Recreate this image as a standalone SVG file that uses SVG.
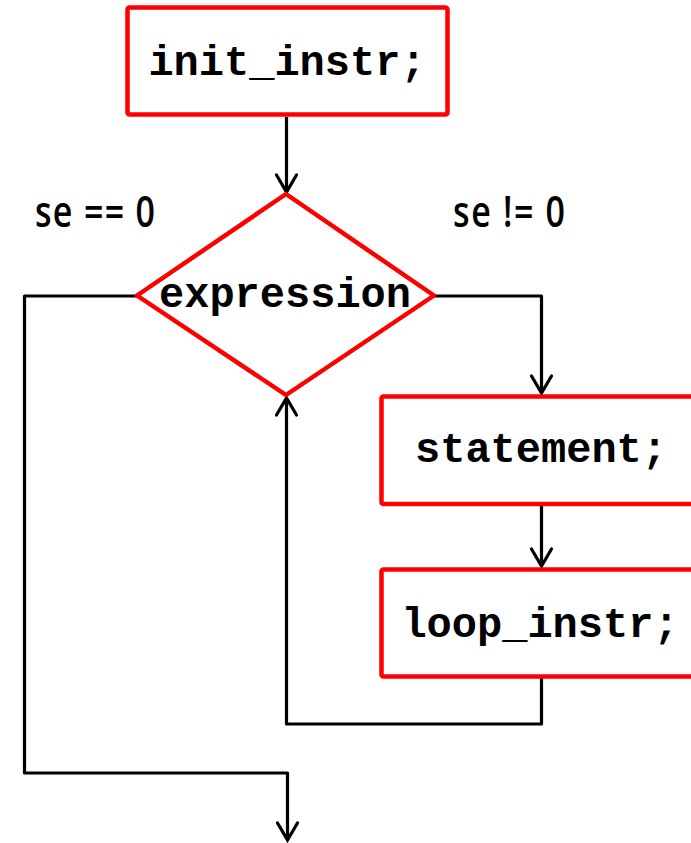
<svg xmlns="http://www.w3.org/2000/svg" width="691" height="843" viewBox="0 0 691 843">
<style>
.box{fill:#fff;stroke:#ff0000;stroke-width:4.5;stroke-linejoin:round}
.code{font-family:"Liberation Mono","Courier New",monospace;font-weight:bold;font-size:42px;fill:#000;text-anchor:middle}
.lbl{font-family:"Open Sans","Noto Sans",sans-serif;font-weight:600;font-size:34px;fill:#000}
.conn{fill:none;stroke:#000;stroke-width:3.2;stroke-linejoin:round}
</style>
<defs>
<marker id="arr" viewBox="-20 -12 22 24" refX="0" refY="0" markerWidth="22" markerHeight="24" markerUnits="userSpaceOnUse" orient="auto" overflow="visible">
<path d="M-17,-10 L0,0 L-17,10" fill="none" stroke="#000" stroke-width="3.2" stroke-linejoin="miter" stroke-linecap="round"/>
</marker>
</defs>
<rect width="691" height="843" fill="#fff"/>
<g id="connectors">
<path class="conn" d="M286.5,117 L286.5,192" marker-end="url(#arr)"/>
<path class="conn" d="M434,296 L541.5,296 L541.5,393" marker-end="url(#arr)"/>
<path class="conn" d="M541.5,506 L541.5,566" marker-end="url(#arr)"/>
<path class="conn" d="M541.5,678 L541.5,724 L286.5,724 L286.5,398" marker-end="url(#arr)"/>
<path class="conn" d="M137,296 L24.5,296 L24.5,773 L287.5,773 L287.5,840" marker-end="url(#arr)"/>
</g>
<g id="init">
<rect class="box" x="127.5" y="7.5" width="320" height="107" rx="2"/>
<text class="code" x="287" y="75">init_instr;</text>
</g>
<g id="expression">
<polygon class="box" points="286,194 434,295.5 286,395 137,295.5"/>
<text class="code" x="285" y="307">expression</text>
</g>
<g id="statement">
<rect class="box" x="381.5" y="396.5" width="330" height="107.5" rx="2"/>
<text class="code" x="541" y="462">statement;</text>
</g>
<g id="loop">
<rect class="box" x="381.5" y="569.5" width="330" height="107" rx="2"/>
<text class="code" x="540" y="637">loop_instr;</text>
</g>
<g id="labels">
<text class="lbl" transform="translate(35,227) scale(1,1.3)" x="0" y="0" textLength="120" lengthAdjust="spacing">se == 0</text>
<text class="lbl" transform="translate(453,227) scale(1,1.3)" x="0" y="0" textLength="112" lengthAdjust="spacing">se != 0</text>
</g>
</svg>
